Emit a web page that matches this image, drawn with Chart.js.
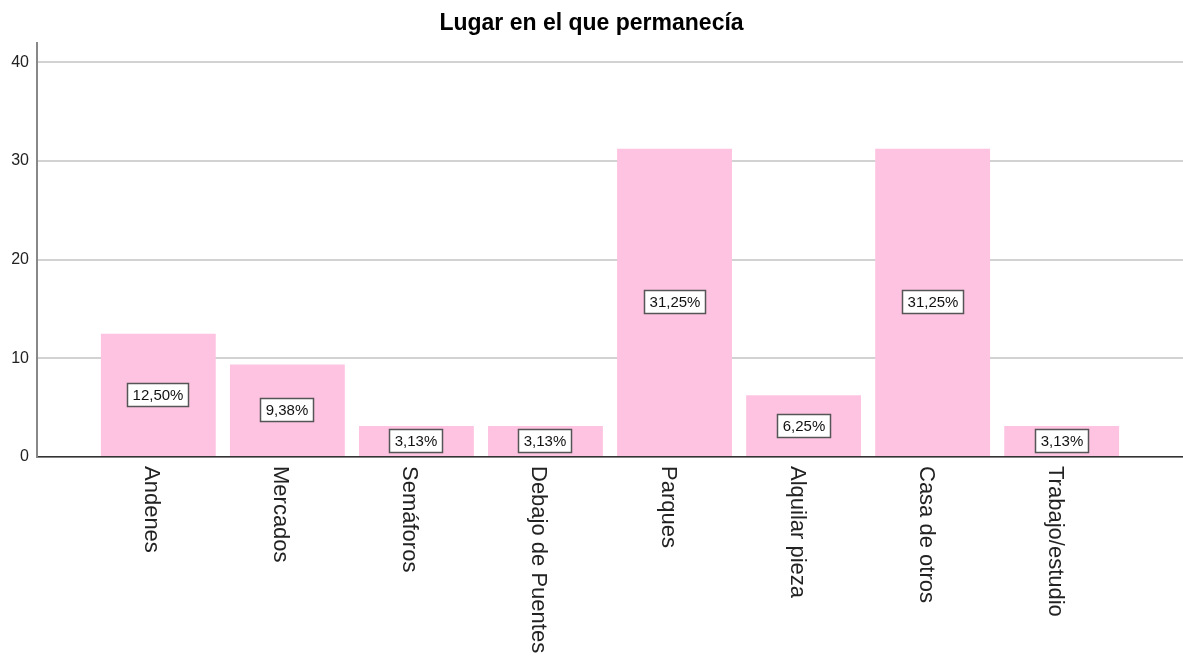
<!DOCTYPE html>
<html>
<head>
<meta charset="utf-8">
<script src="https://cdn.jsdelivr.net/npm/chart.js@4.4.0/dist/chart.umd.min.js"></script>
<style>body{margin:0;background:#fff}</style>
</head>
<body>
<canvas id="lugarChart" width="1183" height="664"></canvas>
<script>
var categorias = ['Andenes', 'Mercados', 'Semáforos', 'Debajo de Puentes', 'Parques', 'Alquilar pieza', 'Casa de otros', 'Trabajo/estudio'];
var porcentajes = [12.50, 9.38, 3.13, 3.13, 31.25, 6.25, 31.25, 3.13];
var marcasY = [0, 10, 20, 30, 40];

var fuente = 'Arial, "Liberation Sans", sans-serif';
Chart.defaults.font.family = fuente;

// cajas con el porcentaje en el centro de cada barra
var etiquetasBarras = {
    id: 'etiquetasBarras',
    afterDatasetsDraw: function (chart) {
        var ctx = chart.ctx;
        var meta = chart.getDatasetMeta(0);
        ctx.save();
        ctx.font = '15px ' + fuente;
        ctx.textAlign = 'center';
        ctx.textBaseline = 'middle';
        meta.data.forEach(function (bar, i) {
            var txt = porcentajes[i].toFixed(2).replace('.', ',') + '%';
            var w = Math.round(ctx.measureText(txt).width + 10);
            var h = 23;
            var cx = Math.round(bar.x);
            var cy = Math.round((bar.y + bar.base) / 2);
            ctx.fillStyle = '#fff';
            ctx.fillRect(cx - w / 2, cy - h / 2, w, h);
            ctx.strokeStyle = '#555';
            ctx.lineWidth = 1.5;
            ctx.strokeRect(cx - w / 2, cy - h / 2, w, h);
            ctx.fillStyle = '#111';
            ctx.fillText(txt, cx, cy + 1);
        });
        ctx.restore();
    }
};

// etiquetas del eje x giradas 90 grados (se leen de arriba hacia abajo)
var etiquetasEje = {
    id: 'etiquetasEje',
    afterDraw: function (chart) {
        var ctx = chart.ctx;
        var x = chart.scales.x;
        ctx.save();
        ctx.font = '22px ' + fuente;
        ctx.fillStyle = '#222';
        ctx.textAlign = 'left';
        ctx.textBaseline = 'alphabetic';
        categorias.forEach(function (c, i) {
            ctx.save();
            ctx.translate(x.getPixelForValue(i), x.top + 9);
            ctx.rotate(Math.PI / 2);
            ctx.fillText(c, 0, 13);
            ctx.restore();
        });
        ctx.restore();
    }
};

var ctx = document.getElementById('lugarChart').getContext('2d');
var chart = new Chart(ctx, {
    type: 'bar',
    data: {
        datasets: [{
            label: 'Porcentaje',
            data: porcentajes.map(function (v, i) { return { x: i, y: v }; }),
            backgroundColor: '#FEC3E1',
            borderWidth: 0,
            barPercentage: 0.89,
            categoryPercentage: 1
        }]
    },
    options: {
        responsive: false,
        animation: false,
        layout: { padding: 0 },
        plugins: {
            legend: { display: false },
            tooltip: { enabled: false },
            title: {
                display: true,
                text: 'Lugar en el que permanecía',
                color: '#000',
                font: { size: 23, weight: 'bold' },
                padding: { top: 10, bottom: 5 }
            }
        },
        scales: {
            x: {
                type: 'linear',
                offset: false,
                min: -0.94,
                max: 7.94,
                afterBuildTicks: function (scale) {
                    scale.ticks = categorias.map(function (c, i) { return { value: i }; });
                },
                afterFit: function (scale) { scale.height = 207; },
                ticks: { display: false },
                grid: { display: false, offset: false },
                border: { display: true, color: '#333', width: 1.5 }
            },
            y: {
                min: 0,
                max: 42,
                afterBuildTicks: function (scale) {
                    scale.ticks = marcasY.map(function (v) { return { value: v }; });
                },
                afterFit: function (scale) { scale.width = 37; },
                ticks: { color: '#222', font: { size: 16 }, padding: 8 },
                grid: { color: '#d2d2d2', lineWidth: 2, drawTicks: false },
                border: { color: '#888', width: 2 }
            }
        }
    },
    plugins: [etiquetasBarras, etiquetasEje]
});
</script>
</body>
</html>
